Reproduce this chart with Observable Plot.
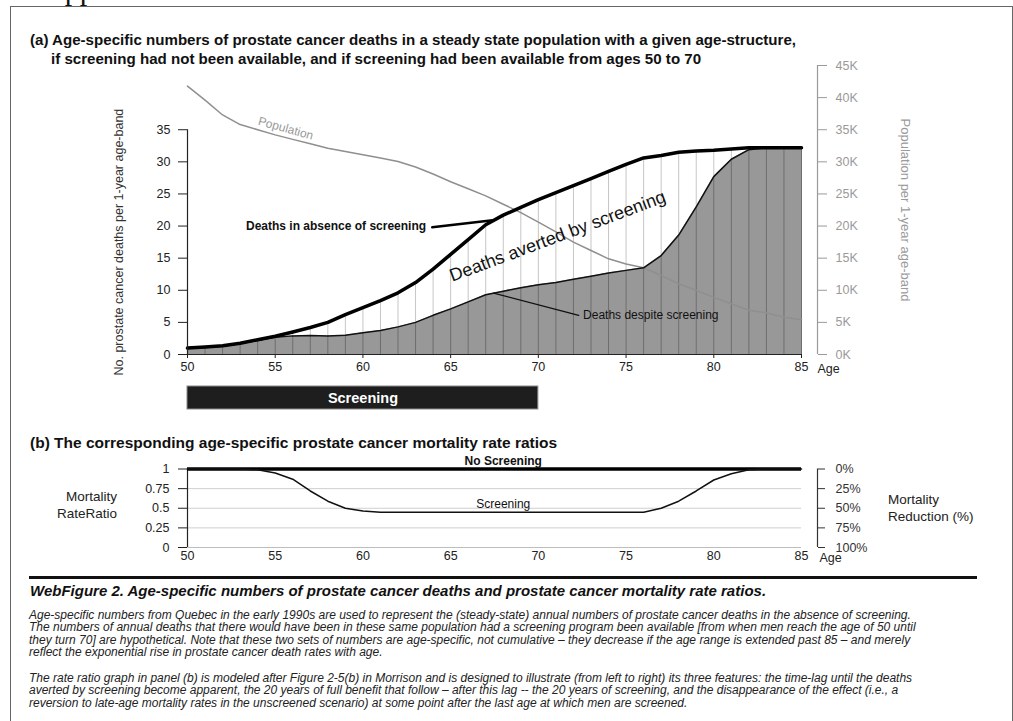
<!DOCTYPE html>
<html>
<head>
<meta charset="utf-8">
<script src="https://cdn.jsdelivr.net/npm/d3@7"></script>
<script src="https://cdn.jsdelivr.net/npm/@observablehq/plot@0.6"></script>
<style>
  body { margin: 0; background: #fff; }
  #page { position: relative; width: 1013px; height: 721px; overflow: hidden;
          font-family: "Liberation Sans", Arial, sans-serif; color: #111; }
  .abs { position: absolute; white-space: nowrap; }
  .frame { position: absolute; left: 10px; top: 6px; width: 1003px; height: 800px;
           border: 1.5px solid #666; box-sizing: border-box; }
  .heading { font-size: 30px; font-family: "Liberation Serif", "DejaVu Serif", serif; line-height: 30px; }
  .ptitle { font-weight: bold; font-size: 15.1px; line-height: 18px; }
  .ptitle.b { font-size: 15.5px; }
  .sidelab { font-size: 13.5px; line-height: 17px; color: #222; }
  .rule { position: absolute; left: 29px; top: 575.5px; width: 948px; height: 3px; background: #111; }
  .captitle { font-weight: bold; font-style: italic; font-size: 15px; line-height: 18px; }
  .capline { font-style: italic; font-size: 12px; line-height: 13px; color: #222; }
  svg { position: absolute; left: 0; }
</style>
</head>
<body>
<div id="page"></div>
<script>
// ---- Panel (a): annual prostate cancer deaths per 1-year age band ----
const ages = [50, 51, 52, 53, 54, 55, 56, 57, 58, 59, 60, 61, 62, 63, 64, 65, 66, 67,
              68, 69, 70, 71, 72, 73, 74, 75, 76, 77, 78, 79, 80, 81, 82, 83, 84, 85];

// deaths if screening had not been available
const deathsNoScreening = [1.0, 1.15, 1.35, 1.75, 2.3, 2.85, 3.5, 4.2, 5.0, 6.2, 7.3, 8.4,
                           9.6, 11.2, 13.3, 15.6, 17.9, 20.2, 21.7, 22.9, 24.1, 25.2, 26.3, 27.4,
                           28.5, 29.6, 30.6, 31.0, 31.5, 31.7, 31.8, 32.0, 32.2, 32.2, 32.2, 32.2];

// deaths despite screening from ages 50 to 70
const deathsWithScreening = [1.0, 1.1, 1.3, 1.7, 2.2, 2.7, 2.9, 2.95, 2.9, 3.0, 3.4, 3.75,
                             4.3, 5.0, 6.1, 7.1, 8.2, 9.3, 9.85, 10.4, 10.85, 11.2, 11.7, 12.2,
                             12.7, 13.1, 13.5, 15.4, 18.6, 23.0, 27.7, 30.4, 31.9, 32.2, 32.2, 32.2];

// population per 1-year age band, thousands
const populationK = [41.8, 39.6, 37.3, 35.8, 35.0, 34.2, 33.5, 32.8, 32.1, 31.6, 31.1, 30.6,
                     30.05, 29.2, 28.1, 26.9, 25.8, 24.7, 23.4, 22.1, 20.6, 19.1, 17.5, 16.2,
                     14.9, 14.1, 13.5, 12.3, 11.0, 10.0, 8.9, 7.9, 6.9, 6.5, 5.8, 5.4];

// ---- Panel (b): mortality rate ratio ----
const rateRatioScreening = [1, 1, 1, 1, 0.99, 0.95, 0.87, 0.72, 0.59, 0.50, 0.465, 0.45,
                            0.45, 0.45, 0.45, 0.45, 0.45, 0.45, 0.45, 0.45, 0.45, 0.45, 0.45, 0.45,
                            0.45, 0.45, 0.45, 0.50, 0.59, 0.72, 0.86, 0.94, 0.99, 1, 1, 1];
const rateRatioNoScreening = 1;

// screening programme ages
const screeningStart = 50;
const screeningEnd = 70;

// axis ticks
const ageTicks = [50, 55, 60, 65, 70, 75, 80, 85];
const deathTicks = [0, 5, 10, 15, 20, 25, 30, 35];
const popTicks = [0, 5, 10, 15, 20, 25, 30, 35, 40, 45];
const ratioTicks = [0, 0.25, 0.5, 0.75, 1];
const ratioGrid = [0.25, 0.5, 0.75];

const FONT = '"Liberation Sans", Arial, sans-serif';
const page = document.getElementById("page");

function addDiv(cls, text, style) {
  const d = document.createElement("div");
  d.className = cls;
  d.textContent = text;
  Object.assign(d.style, style);
  page.appendChild(d);
  return d;
}

addDiv("frame", "", {});
addDiv("abs heading", "Appendix", { left: "43px", top: "-25px" });

// titles of panel (a)
addDiv("abs ptitle", "(a) Age-specific numbers of prostate cancer deaths in a steady state population with a given age-structure,", { left: "30px", top: "31px" });
addDiv("abs ptitle", "if screening had not been available, and if screening had been available from ages 50 to 70", { left: "51px", top: "49.5px" });

const rows = ages.map((age, i) => ({
  age,
  absent: deathsNoScreening[i],
  screened: deathsWithScreening[i],
  pop: populationK[i],
  ratio: rateRatioScreening[i]
}));

// annotation anchors (age, value on the shared y scale)
const leaderAbsent = [{ age: 63.95, v: 19.8 }, { age: 67.4, v: 20.9 }];
const leaderDespite = [{ age: 67.45, v: 9.55 }, { age: 72.3, v: 6.1 }];

const plotA = Plot.plot({
  width: 1013,
  height: 330,
  marginLeft: 187,
  marginRight: 212,
  marginTop: 10,
  marginBottom: 31,
  x: { domain: [50, 85], label: null },
  y: { domain: [0, 45], label: null },
  style: { fontFamily: FONT, background: "transparent", overflow: "visible", color: "#222" },
  marks: [
    Plot.areaY(rows, { x: "age", y: "screened", fill: "#989898" }),
    Plot.ruleX(rows, { x: "age", y1: 0, y2: "screened", stroke: "#6e6e6e", strokeWidth: 1 }),
    Plot.ruleX(rows, { x: "age", y1: "screened", y2: "absent", stroke: "#c6c6c6", strokeWidth: 1 }),
    Plot.line(rows, { x: "age", y: "pop", stroke: "#8f8f8f", strokeWidth: 1.5 }),
    Plot.line(rows, { x: "age", y: "screened", stroke: "#111", strokeWidth: 1.5 }),
    Plot.line(rows, { x: "age", y: "absent", stroke: "#000", strokeWidth: 3.5, strokeLinejoin: "round" }),
    Plot.line(leaderAbsent, { x: "age", y: "v", stroke: "#000", strokeWidth: 2.5 }),
    Plot.line(leaderDespite, { x: "age", y: "v", stroke: "#111", strokeWidth: 1.3 }),
    // axes
    Plot.ruleY([0], { x1: 50, x2: 85, stroke: "#222", strokeWidth: 1.2 }),
    Plot.ruleX([50], { y1: 0, y2: 35, stroke: "#222", strokeWidth: 1.2 }),
    Plot.axisY({ anchor: "left", ticks: deathTicks, tickSize: 9, tickPadding: 8, fontSize: 12.5, label: null, color: "#222" }),
    Plot.axisX({ anchor: "bottom", ticks: ageTicks, tickSize: 4, tickPadding: 4, fontSize: 12.5, label: null, color: "#222" }),
    Plot.ruleX([85], { y1: 0, y2: 45, dx: 16, stroke: "#9a9a9a", strokeWidth: 1.2 }),
    Plot.axisY({ anchor: "right", ticks: popTicks, tickFormat: d => `${d}K`, dx: 16, tickSize: 9, tickPadding: 9,
                 fontSize: 12.5, label: null, color: "#9a9a9a" }),
    Plot.text(["Age"], { x: 85, y: 0, dx: 16, dy: 14, textAnchor: "start", fontSize: 12.5, fill: "#222" }),
    Plot.text(["No. prostate cancer deaths per 1-year age-band"], { x: 50, y: 17.5, dx: -69, rotate: -90, fontSize: 12.5, fill: "#333" }),
    Plot.text(["Population per 1-year age-band"], { frameAnchor: "right", textAnchor: "middle", dx: 104, rotate: 90, fontSize: 13, fill: "#9a9a9a" }),
    // annotations
    Plot.text(["Population"], { x: 55.6, y: 35.2, rotate: 15.5, fontSize: 12, fill: "#999" }),
    Plot.text(["Deaths in absence of screening"], { x: 63.6, y: 20.0, textAnchor: "end", fontSize: 12, fontWeight: "bold", fill: "#111" }),
    Plot.text(["Deaths averted by screening"], { x: 71.1, y: 18.4, rotate: -20.5, fontSize: 18, fill: "#111" }),
    Plot.text(["Deaths despite screening"], { x: 72.55, y: 6.1, textAnchor: "start", fontSize: 12, fill: "#111" })
  ]
});
plotA.style.top = "55px";
page.appendChild(plotA);

// bar marking the ages covered by screening
const screeningBand = [{ start: screeningStart, end: screeningEnd, label: "Screening" }];
const plotBar = Plot.plot({
  width: 1013,
  height: 23,
  marginLeft: 187,
  marginRight: 212,
  marginTop: 0,
  marginBottom: 0,
  x: { domain: [50, 85], label: null, axis: null },
  style: { fontFamily: FONT, background: "transparent", overflow: "visible" },
  marks: [
    Plot.rect(screeningBand, { x1: "start", x2: "end", fill: "#1e1e1e", stroke: "#8a8a8a", strokeWidth: 1 }),
    Plot.text(screeningBand, { x: d => (d.start + d.end) / 2, frameAnchor: "middle", text: "label",
                               fill: "#fff", fontSize: 14.5, fontWeight: "bold" })
  ]
});
plotBar.style.top = "386px";
page.appendChild(plotBar);

// ---- Panel (b) ----
addDiv("abs ptitle b", "(b) The corresponding age-specific prostate cancer mortality rate ratios", { left: "30px", top: "433.5px" });
addDiv("abs sidelab", "Mortality", { right: `${1013 - 117}px`, top: "488px", textAlign: "right" });
addDiv("abs sidelab", "RateRatio", { right: `${1013 - 117}px`, top: "504.5px", textAlign: "right" });
addDiv("abs sidelab", "Mortality", { left: "888px", top: "490.5px" });
addDiv("abs sidelab", "Reduction (%)", { left: "888px", top: "507.5px" });

const plotB = Plot.plot({
  width: 1013,
  height: 120,
  marginLeft: 187,
  marginRight: 212,
  marginTop: 18.5,
  marginBottom: 23,
  x: { domain: [50, 85], label: null },
  y: { domain: [0, 1], label: null },
  style: { fontFamily: FONT, background: "transparent", overflow: "visible", color: "#222" },
  marks: [
    Plot.ruleY(ratioGrid, { x1: 50, x2: 85, stroke: "#cfcfcf", strokeWidth: 1 }),
    Plot.ruleY([0], { x1: 50, x2: 85, stroke: "#bdbdbd", strokeWidth: 1 }),
    Plot.ruleX([50], { y1: 0, y2: 1, stroke: "#222", strokeWidth: 1.2 }),
    Plot.axisY({ anchor: "left", ticks: ratioTicks, tickFormat: d => String(d), tickSize: 9, tickPadding: 9,
                 fontSize: 12.5, label: null, color: "#222" }),
    Plot.ruleX([85], { y1: 0, y2: 1, dx: 16, stroke: "#333", strokeWidth: 1.2 }),
    Plot.axisY({ anchor: "right", ticks: ratioTicks, tickFormat: d => `${Math.round((1 - d) * 100)}%`, dx: 16,
                 tickSize: 7, tickPadding: 11, fontSize: 12.5, label: null, color: "#333" }),
    Plot.axisX({ anchor: "bottom", ticks: ageTicks, tickSize: 0, tickPadding: 4, fontSize: 12.5, label: null, color: "#222" }),
    Plot.text(["Age"], { x: 85, y: 0, dx: 18, dy: 10, textAnchor: "start", fontSize: 12.5, fill: "#222" }),
    Plot.ruleY([rateRatioNoScreening], { x1: 50, x2: 85, stroke: "#000", strokeWidth: 3.5 }),
    Plot.line(rows, { x: "age", y: "ratio", stroke: "#111", strokeWidth: 1.5 }),
    Plot.text(["No Screening"], { x: 68.0, y: 1.10, fontSize: 12, fontWeight: "bold", fill: "#111" }),
    Plot.text(["Screening"], { x: 68.0, y: 0.55, fontSize: 12, fill: "#111" })
  ]
});
plotB.style.top = "450px";
page.appendChild(plotB);

// ---- Caption ----
const rule = document.createElement("div");
rule.className = "rule";
page.appendChild(rule);

addDiv("abs captitle", "WebFigure 2. Age-specific numbers of prostate cancer deaths and prostate cancer mortality rate ratios.", { left: "30px", top: "582px" });

const captionLines = [
  ["Age-specific numbers from Quebec in the early 1990s are used to represent the (steady-state) annual numbers of prostate cancer deaths in the absence of screening.", 615],
  ["The numbers of annual deaths that there would have been in these same population had a screening program been available [from when men reach the age of 50 until", 627.5],
  ["they turn 70] are hypothetical. Note that these two sets of numbers are age-specific, not cumulative \u2013 they decrease if the age range is extended past 85 \u2013 and merely", 640],
  ["reflect the exponential rise in prostate cancer death rates with age.", 652.5],
  ["The rate ratio graph in panel (b) is modeled after Figure 2-5(b) in Morrison and is designed to illustrate (from left to right) its three features: the time-lag until the deaths", 678],
  ["averted by screening become apparent, the 20 years of full benefit that follow \u2013 after this lag -- the 20 years of screening, and the disappearance of the effect (i.e., a", 690.5],
  ["reversion to late-age mortality rates in the unscreened scenario) at some point after the last age at which men are screened.", 703]
];
for (const [text, cy] of captionLines) {
  addDiv("abs capline", text, { left: "29px", top: `${cy - 6.5}px` });
}
</script>
</body>
</html>
